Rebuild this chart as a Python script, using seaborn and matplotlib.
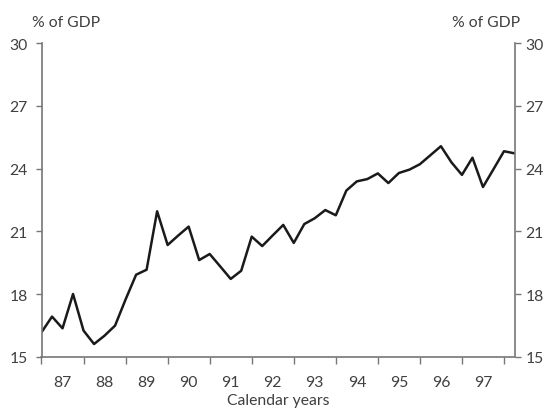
import numpy as np
import pandas as pd
import matplotlib
matplotlib.use("Agg")
import matplotlib.pyplot as plt
import seaborn as sns

# Quarterly data, 1987 Q1 .. 1998 Q2 (% of GDP)
quarter_index = list(range(46))
values = [16.18, 16.93, 16.37, 18.01, 16.26, 15.62, 16.02, 16.50,
          17.75, 18.93, 19.17, 21.96, 20.35, 20.80, 21.23, 19.63,
          19.92, 19.33, 18.73, 19.12, 20.75, 20.30, 20.81, 21.31,
          20.45, 21.35, 21.63, 22.02, 21.77, 22.95, 23.39, 23.50,
          23.77, 23.31, 23.79, 23.95, 24.21, 24.64, 25.07, 24.30,
          23.70, 24.52, 23.12, 23.97, 24.83, 24.73]
year_labels = ["87", "88", "89", "90", "91", "92", "93", "94", "95", "96", "97"]
y_ticks = [15, 18, 21, 24, 27, 30]

start_year = 1987
df = pd.DataFrame({"x": [start_year + q / 4 for q in quarter_index], "y": values})

sns.set_style("ticks")
plt.rcParams["font.family"] = ["Lato", "DejaVu Sans"]
text_color = "#404040"
spine_color = "#777777"
fs = 11.3

fig = plt.figure(figsize=(5.46, 4.10), dpi=100)
ax = fig.add_axes([41.5 / 546, 1 - 358 / 410, (514.5 - 41.5) / 546, (358 - 44) / 410])

sns.lineplot(data=df, x="x", y="y", ax=ax, color="#1a1a1a", linewidth=1.8)

ax.set_xlim(start_year, start_year + 45 / 4)
ax.set_ylim(15, 30)
ax.set_yticks(y_ticks)
ax.set_yticklabels([str(t) for t in y_ticks])

# year boundary ticks (major, no labels) and year-centre labels (minor, no marks)
n_years = len(year_labels)
ax.set_xticks([start_year + i for i in range(n_years + 1)])
ax.set_xticklabels([])
ax.set_xticks([start_year + i + 0.5 for i in range(n_years)], minor=True)
ax.set_xticklabels(year_labels, minor=True)
ax.tick_params(axis="x", which="major", length=5, width=1, color=spine_color, direction="out")
ax.tick_params(axis="x", which="minor", length=0, pad=13, labelsize=fs, labelcolor=text_color)
ax.tick_params(axis="y", which="major", length=4, width=1, color=spine_color, pad=6,
               labelsize=fs, labelcolor=text_color)

ax.set_xlabel("Calendar years", fontsize=fs, color=text_color, labelpad=3)
ax.set_ylabel("")

ax.spines["top"].set_visible(False)
ax.spines["right"].set_visible(False)
for side in ["left", "bottom"]:
    ax.spines[side].set_color(spine_color)
    ax.spines[side].set_linewidth(1.2)

ax2 = ax.twinx()
ax2.set_ylim(15, 30)
ax2.set_yticks(y_ticks)
ax2.set_yticklabels([str(t) for t in y_ticks])
ax2.tick_params(axis="y", which="major", length=4, width=1, color=spine_color, pad=4,
                labelsize=fs, labelcolor=text_color)
for side in ["top", "left", "bottom"]:
    ax2.spines[side].set_visible(False)
ax2.spines["right"].set_color(spine_color)
ax2.spines["right"].set_linewidth(1.2)

fig.text(32 / 546, 1 - 23 / 410, "% of GDP", fontsize=fs, color=text_color,
         ha="left", va="center")
fig.text(520 / 546, 1 - 23 / 410, "% of GDP", fontsize=fs, color=text_color,
         ha="right", va="center")

fig.savefig("out.png", dpi=100)
